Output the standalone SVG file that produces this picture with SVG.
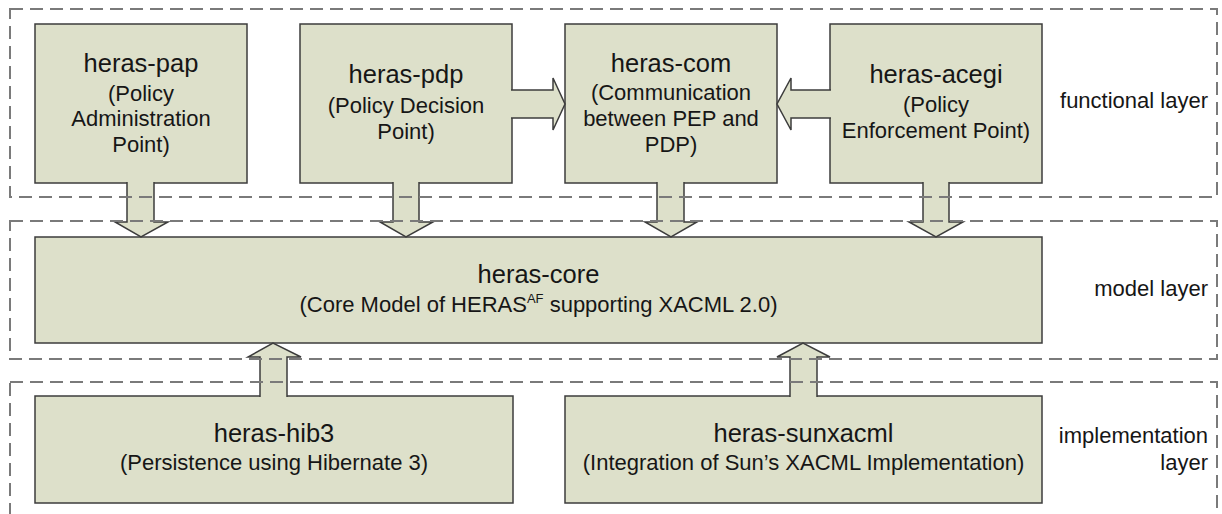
<svg xmlns="http://www.w3.org/2000/svg" width="1222" height="514" viewBox="0 0 1222 514">
<style>
.layer{fill:none;stroke:#7a7a7a;stroke-width:2;stroke-dasharray:13 7}
.box{fill:#dde0ca;stroke:#3c3c3c;stroke-width:1.5}
.arr{fill:#dde0ca;stroke:#3c3c3c;stroke-width:1.5;stroke-linejoin:miter}
text{font-family:"Liberation Sans",Arial,sans-serif;fill:#161616}
.t{font-size:25.5px;text-anchor:middle}
.s{font-size:22px;text-anchor:middle}
.l{font-size:22px;text-anchor:end}
</style>
<rect width="1222" height="514" fill="#ffffff"/>
<g id="heras-pap">
<rect class="box" x="35" y="24" width="212" height="159"/>
<text class="t" x="141" y="72">heras-pap</text>
<text class="s" x="141" y="101">(Policy</text>
<text class="s" x="141" y="126">Administration</text>
<text class="s" x="141" y="152">Point)</text>
</g>
<g id="heras-pdp">
<rect class="box" x="300" y="24" width="212" height="159"/>
<text class="t" x="406" y="83">heras-pdp</text>
<text class="s" x="406" y="113">(Policy Decision</text>
<text class="s" x="406" y="139">Point)</text>
</g>
<g id="heras-com">
<rect class="box" x="565" y="24" width="212" height="159"/>
<text class="t" x="671" y="72">heras-com</text>
<text class="s" x="671" y="100">(Communication</text>
<text class="s" x="671" y="126">between PEP and</text>
<text class="s" x="671" y="152">PDP)</text>
</g>
<g id="heras-acegi">
<rect class="box" x="830" y="24" width="212" height="159"/>
<text class="t" x="936" y="83">heras-acegi</text>
<text class="s" x="936" y="112">(Policy</text>
<text class="s" x="936" y="138">Enforcement Point)</text>
</g>
<g id="heras-core">
<rect class="box" x="35" y="237" width="1007" height="106"/>
<text class="t" x="538.5" y="283">heras-core</text>
<text class="s" x="538.5" y="312">(Core Model of HERAS<tspan font-size="13" dy="-9">AF</tspan><tspan dy="9"> supporting XACML 2.0)</tspan></text>
</g>
<g id="heras-hib3">
<rect class="box" x="35" y="396" width="478" height="107"/>
<text class="t" x="274" y="442">heras-hib3</text>
<text class="s" x="274" y="470">(Persistence using Hibernate 3)</text>
</g>
<g id="heras-sunxacml">
<rect class="box" x="565" y="396" width="477" height="107"/>
<text class="t" x="803.5" y="442">heras-sunxacml</text>
<text class="s" x="803.5" y="470">(Integration of Sun’s XACML Implementation)</text>
</g>
<g id="connectors">
<path class="arr" d="M127 182 V222 H115 L141 237 L168 222 H154 V182"/>
<path class="arr" d="M393 182 V222 H380 L406 237 L433 222 H419 V182"/>
<path class="arr" d="M657 182 V222 H645 L671 237 L697 222 H684 V182"/>
<path class="arr" d="M923 182 V222 H909 L936 237 L963 222 H949 V182"/>
<path class="arr" d="M511 90 H553 V78 L565 104 L553 130 V118 H511"/>
<path class="arr" d="M831 90 H791 V78 L777 104 L791 130 V118 H831"/>
<path class="arr" d="M260 397 V357 H248 L273 343 L301 357 H287 V397"/>
<path class="arr" d="M790 397 V357 H777 L803 343 L830 357 H817 V397"/>
</g>
<g id="layers">
<rect class="layer" x="10" y="9" width="1207" height="188"/>
<rect class="layer" x="10" y="221" width="1207" height="138"/>
<rect class="layer" x="10" y="382" width="1207" height="150"/>
<text class="l" x="1208" y="108">functional layer</text>
<text class="l" x="1208" y="296">model layer</text>
<text class="l" x="1208" y="443">implementation</text>
<text class="l" x="1208" y="470">layer</text>
</g>
</svg>
